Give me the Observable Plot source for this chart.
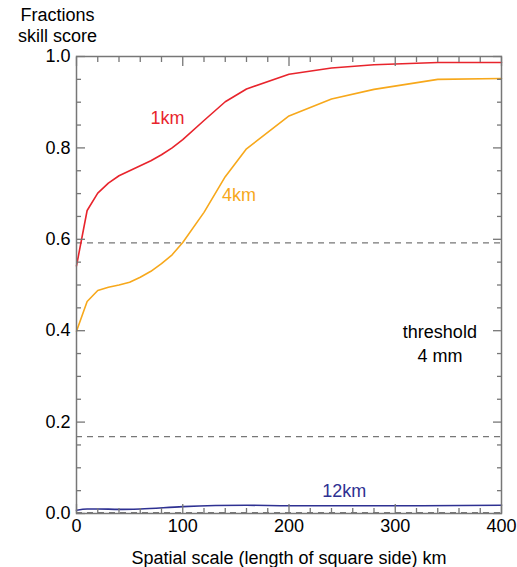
<!DOCTYPE html>
<html>
<head>
<meta charset="utf-8">
<script src="https://cdn.jsdelivr.net/npm/d3@7"></script>
<script src="https://cdn.jsdelivr.net/npm/@observablehq/plot@0.6"></script>
<style>
  html, body { margin: 0; padding: 0; background: #fff; }
  svg { display: block; }
</style>
</head>
<body>
<div id="chart"></div>
<script>
// Spatial scale (km)
const scales1 = [0, 10, 20, 30, 40, 50, 60, 70, 80, 90, 100, 120, 140, 160, 200, 240, 280, 340, 400];
const fss1km  = [0.542, 0.663, 0.701, 0.723, 0.739, 0.750, 0.761, 0.772, 0.785, 0.800, 0.818, 0.860, 0.901, 0.929, 0.961, 0.975, 0.982, 0.987, 0.987];
const scales4 = [0, 10, 20, 30, 40, 50, 60, 70, 80, 90, 100, 120, 140, 160, 200, 240, 280, 340, 400];
const fss4km  = [0.399, 0.464, 0.488, 0.495, 0.500, 0.506, 0.517, 0.530, 0.547, 0.566, 0.593, 0.659, 0.737, 0.798, 0.870, 0.907, 0.928, 0.950, 0.952];
const scales12 = [0, 10, 20, 40, 60, 100, 160, 200, 300, 400];
const fss12km  = [0.007, 0.010, 0.010, 0.009, 0.010, 0.015, 0.018, 0.017, 0.017, 0.018];
// dashed reference lines (uniform skill)
const refLevels = [0.592, 0.168, 0.002];

const xMajor = [0, 100, 200, 300, 400];
const xMinor = [20, 40, 60, 80, 120, 140, 160, 180, 220, 240, 260, 280, 320, 340, 360, 380];
const yMajor = [0, 0.2, 0.4, 0.6, 0.8, 1.0];
const yMinor = [0.05, 0.1, 0.15, 0.25, 0.3, 0.35, 0.45, 0.5, 0.55, 0.65, 0.7, 0.75, 0.85, 0.9, 0.95];

const seriesLabels = [
  {x: 85.6, y: 0.866, text: "1km", color: "#e8242c"},
  {x: 153, y: 0.697, text: "4km", color: "#f7a81b"},
  {x: 252, y: 0.048, text: "12km", color: "#2e3192"},
  {x: 342, y: 0.396, text: "threshold", color: "#000"},
  {x: 342, y: 0.345, text: "4 mm", color: "#000"}
];

const toRows = (xs, ys) => xs.map((x, i) => ({x, y: ys[i]}));
const axisGray = "#777";
const font = "Liberation Sans, Arial, Helvetica, sans-serif";
const fs = 18;

const chart = Plot.plot({
  width: 517,
  height: 567,
  marginLeft: 76,
  marginRight: 16,
  marginTop: 56,
  marginBottom: 54,
  style: {fontFamily: font, fontSize: fs + "px", color: "#000", background: "#fff"},
  x: {domain: [0, 400], label: null},
  y: {domain: [0, 1], label: null},
  marks: [
    Plot.ruleY(refLevels, {stroke: axisGray, strokeWidth: 1.3, strokeDasharray: "6,5"}),
    Plot.line(toRows(scales12, fss12km), {x: "x", y: "y", stroke: "#2e3192", strokeWidth: 1.6, curve: "monotone-x"}),
    Plot.line(toRows(scales4, fss4km), {x: "x", y: "y", stroke: "#f7a81b", strokeWidth: 1.6}),
    Plot.line(toRows(scales1, fss1km), {x: "x", y: "y", stroke: "#e8242c", strokeWidth: 1.6}),
    // inward ticks
    Plot.axisX({anchor: "bottom", ticks: xMajor, tickSize: -9, text: null, stroke: axisGray, strokeWidth: 1.3, label: null}),
    Plot.axisX({anchor: "bottom", ticks: xMinor, tickSize: -5, text: null, stroke: axisGray, strokeWidth: 1.3, label: null}),
    Plot.axisX({anchor: "top", ticks: xMajor, tickSize: -9, text: null, stroke: axisGray, strokeWidth: 1.3, label: null}),
    Plot.axisX({anchor: "top", ticks: xMinor, tickSize: -5, text: null, stroke: axisGray, strokeWidth: 1.3, label: null}),
    Plot.axisY({anchor: "left", ticks: yMajor, tickSize: -9, text: null, stroke: axisGray, strokeWidth: 1.3, label: null}),
    Plot.axisY({anchor: "left", ticks: yMinor, tickSize: -5, text: null, stroke: axisGray, strokeWidth: 1.3, label: null}),
    Plot.axisY({anchor: "right", ticks: yMajor, tickSize: -9, text: null, stroke: axisGray, strokeWidth: 1.3, label: null}),
    Plot.axisY({anchor: "right", ticks: yMinor, tickSize: -5, text: null, stroke: axisGray, strokeWidth: 1.3, label: null}),
    // tick labels
    Plot.axisX({anchor: "bottom", ticks: xMajor, tickSize: 0, tickPadding: 6, tickFormat: d3.format("d"), fill: "#000", fontSize: fs, label: null}),
    Plot.axisY({anchor: "left", ticks: yMajor, tickSize: 0, tickPadding: 6, tickFormat: d3.format(".1f"), fill: "#000", fontSize: fs, label: null}),
    Plot.frame({stroke: axisGray, strokeWidth: 1.5}),
    Plot.text(seriesLabels, {x: "x", y: "y", text: "text", fill: d => d.color, fontSize: fs, textAnchor: "middle"}),
    Plot.text(["Fractions\nskill score"], {frameAnchor: "top-left", dx: -19, dy: -51, textAnchor: "middle", lineAnchor: "top", fontSize: fs, lineHeight: 1.2, fill: "#000"}),
    Plot.text(["Spatial scale (length of square side) km"], {frameAnchor: "bottom", dy: 50, textAnchor: "middle", lineAnchor: "bottom", fontSize: fs, fill: "#000"})
  ]
});
document.getElementById("chart").appendChild(chart);
</script>
</body>
</html>
